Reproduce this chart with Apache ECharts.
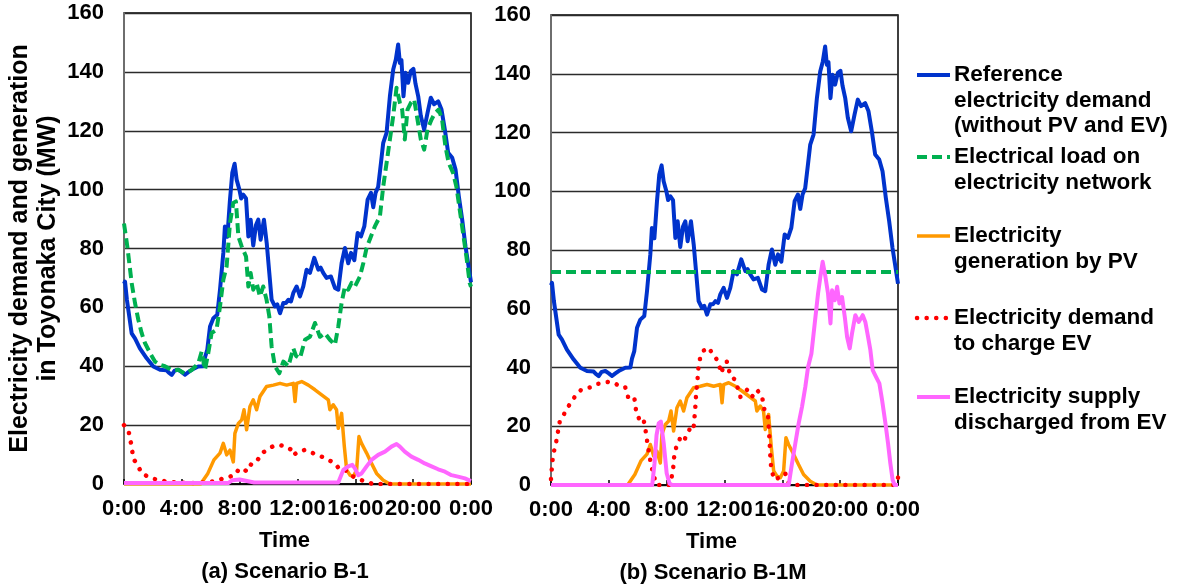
<!DOCTYPE html>
<html>
<head>
<meta charset="utf-8">
<script src="https://cdn.jsdelivr.net/npm/echarts@6/dist/echarts.min.js"></script>
<style>
html,body{margin:0;padding:0;background:#fff;}
#chart{width:1178px;height:588px;}
</style>
</head>
<body>
<div id="chart"></div>
<script>
// ---- DATA ([hour, MW]) ----
const xTicks = [0, 4, 8, 12, 16, 20, 24];
const seriesNames = [
  'Reference electricity demand (without PV and EV)',
  'Electrical load on electricity network',
  'Electricity generation by PV',
  'Electricity demand to charge EV',
  'Electricity supply discharged from EV'
];
const legendTexts = [
  'Reference\nelectricity demand\n(without PV and EV)',
  'Electrical load on\nelectricity network',
  'Electricity\ngeneration by PV',
  'Electricity demand\nto charge EV',
  'Electricity supply\ndischarged from EV'
];
const panelTitles = ['(a) Scenario B-1', '(b) Scenario B-1M'];

const refDemand = [[0,68],[0.07,68.8],[0.2,62.6],[0.53,51.2],[0.76,49.5],[1.1,46.1],[1.57,42.7],[2.03,39.9],[2.49,38.8],[2.95,38.6],[3.1,37.8],[3.3,37.1],[3.5,38.5],[3.76,38.8],[4.0,38.0],[4.22,37.1],[4.45,38.0],[4.68,38.8],[5.14,39.9],[5.49,40],[5.6,43],[5.76,45.6],[5.95,53.5],[6.18,56.3],[6.45,57.5],[6.64,66],[6.87,78.5],[6.98,87.5],[7.15,84],[7.33,96.6],[7.49,105.7],[7.65,108.8],[7.79,103.4],[7.98,100],[8.1,97],[8.25,98.3],[8.44,97],[8.6,84.1],[8.76,89.8],[8.94,81],[9.13,88],[9.29,89.8],[9.45,83],[9.68,89.8],[9.87,81.9],[10.05,71.7],[10.21,62.6],[10.44,60.3],[10.6,61],[10.79,58],[11.02,61.5],[11.2,61.5],[11.37,62.6],[11.55,62],[11.71,64.9],[11.94,67.1],[12.17,63.7],[12.4,67.1],[12.63,72.8],[12.86,71.7],[13.16,76.8],[13.44,72.8],[13.6,73.5],[13.78,71.7],[14.01,70],[14.31,70.5],[14.59,66.6],[14.82,66],[15.05,75],[15.28,80.2],[15.51,75],[15.7,78.5],[15.93,76],[16.16,85.3],[16.39,84.1],[16.62,87.5],[16.85,96.6],[17.08,98.9],[17.24,94],[17.4,98.9],[17.58,101],[17.77,109],[17.93,115.9],[18.16,119.3],[18.39,131.7],[18.62,140.8],[18.8,144.2],[18.96,149.3],[19.08,143],[19.19,144],[19.33,131.7],[19.47,139.7],[19.65,136.3],[19.84,140.3],[20.02,141],[20.16,136],[20.35,131.7],[20.53,125],[20.76,120.4],[20.99,126],[21.22,131.2],[21.45,129],[21.73,130],[21.96,127.2],[22.19,120.4],[22.42,112.5],[22.7,110.8],[22.93,106.8],[23.16,97.7],[23.39,89.8],[23.62,80.7],[23.8,75],[24,68.5]];

const netLoadA = [[0,88.5],[0.23,80.7],[0.53,68.3],[0.76,61.5],[0.99,55.8],[1.22,51.3],[1.45,47.9],[1.8,44.5],[2.14,41.6],[2.49,40.5],[2.83,40],[3.3,38.7],[3.76,38.8],[4.22,37.5],[4.68,38.7],[5.14,41],[5.37,45],[5.6,38.8],[5.83,44.5],[6.06,51.3],[6.4,52.4],[6.64,60.3],[6.87,69.4],[7.1,74],[7.33,88.7],[7.56,95.5],[7.74,96],[7.91,84.1],[8.14,80.7],[8.44,77.3],[8.6,67.1],[8.76,71.7],[8.94,66],[9.17,68.3],[9.4,63.7],[9.63,67.1],[9.86,62.6],[10.05,56.9],[10.21,46.7],[10.44,40],[10.74,37.6],[11.02,41.6],[11.37,40],[11.71,46.1],[11.9,43.5],[12.17,42.7],[12.52,49],[12.86,50],[13.21,54.7],[13.55,50],[13.9,51.2],[14.24,49],[14.59,47.3],[14.82,53.5],[15.05,61.5],[15.28,67.1],[15.51,66],[15.74,68.3],[15.97,67.1],[16.32,70.5],[16.55,75],[16.78,80.2],[17.08,84.1],[17.35,87.5],[17.7,90.9],[17.93,101.1],[18.16,109],[18.39,117],[18.62,125],[18.85,134.6],[19.08,129.5],[19.24,127.2],[19.42,117],[19.61,127.2],[19.84,129.5],[20.07,130.6],[20.3,123.8],[20.53,117],[20.76,113.6],[20.99,120.4],[21.27,123.8],[21.5,126],[21.77,127.2],[22,123.8],[22.23,114.7],[22.46,109],[22.76,105.7],[22.99,101],[23.22,93.2],[23.45,85.3],[23.68,77.3],[23.91,68.3],[24,67]];

const netLoadB = [[0,72.5],[24,72.5]];

const pvGen = [[0,0],[5.3,0],[5.8,3.6],[6.22,8.2],[6.64,10.5],[6.87,13.8],[7.1,9.9],[7.33,11.5],[7.56,7.5],[7.67,17.2],[7.91,20.6],[8.14,21.8],[8.3,25.2],[8.48,18.4],[8.71,26.3],[8.94,28.6],[9.17,25.2],[9.4,29.7],[9.86,33.1],[10.33,33.6],[10.79,34.2],[11.25,33.6],[11.71,34.2],[11.83,28],[11.94,34.2],[12.29,34.8],[12.75,33.6],[13.21,32],[13.67,30.3],[14.13,28.6],[14.24,25.2],[14.47,26.9],[14.7,25.2],[14.82,18.9],[15.05,24],[15.24,12.7],[15.4,4.8],[15.63,3],[15.86,2.5],[16.09,4.8],[16.25,16.1],[16.43,13.8],[16.78,10.5],[17.12,7],[17.47,3.6],[17.93,1.3],[18.39,0],[24,0]];

const evChargeA = [[0,20],[0.3,18.4],[0.53,12.7],[0.64,8.6],[0.94,6.5],[1.22,3.6],[1.91,1.9],[2.49,1.3],[3.07,0.7],[3.64,0.5],[4.5,0.3],[5.49,0.5],[6.3,1],[6.87,1.9],[7.33,2.5],[7.67,3],[7.91,4.8],[8.25,5.3],[8.48,4.2],[8.83,7],[9.17,7.6],[9.52,10.4],[9.86,11.5],[10.33,12.9],[10.79,13.2],[11.25,12.7],[11.6,11.5],[11.71,9.8],[12.06,11],[12.52,11.6],[13.1,10.4],[13.67,9.3],[14.13,8.2],[14.59,7],[14.94,4.8],[15.28,4.8],[15.86,2.5],[16.43,1.3],[16.78,0.8],[17.2,0],[24,0]];

const evChargeB = [[0,2],[0.09,7.9],[0.2,11.3],[0.36,14.7],[0.48,18.1],[0.6,21.5],[0.83,23.5],[1.18,26.6],[1.64,30],[2.1,32.5],[2.68,33.2],[3.14,34.4],[3.6,34.6],[3.95,35.1],[4.41,34.8],[4.75,33.4],[5.14,33.2],[5.33,30],[5.56,30],[5.75,30.2],[5.91,24.4],[6.14,22.1],[6.37,22.7],[6.49,20.4],[6.67,14.2],[6.79,10.8],[6.9,7.4],[7.06,4],[7.3,0],[8.2,0],[8.35,2.8],[8.46,6.2],[8.53,10.2],[8.7,13.6],[8.93,15.9],[9.16,14.7],[9.39,17],[9.62,19.3],[9.85,18.7],[9.92,22.7],[9.97,25.5],[10.04,31.2],[10.15,36.8],[10.2,40.2],[10.31,43.1],[10.54,45.7],[10.89,46.8],[11.24,44.2],[11.58,42],[11.76,38],[11.93,40.2],[12.16,42],[12.4,37.3],[12.75,35.7],[13.1,30],[13.56,32.4],[13.9,30],[14.25,32.4],[14.6,30],[14.83,23.8],[15.01,23.2],[15.1,16.4],[15.17,9.6],[15.24,5.1],[15.47,1.7],[15.86,2.8],[16.2,4],[16.44,0.6],[16.6,0],[23.8,0],[24,2.5]];

const evDischargeA = [[0,0.3],[7.2,0.3],[7.5,1.3],[8.0,1.5],[8.5,1.0],[9,0.5],[14.82,0.5],[15.17,4.8],[15.51,6],[15.79,6.5],[15.97,5.3],[16.2,3],[16.43,3.6],[16.78,6],[17.12,8.2],[17.58,9.9],[18.05,11],[18.5,12.7],[18.85,13.6],[19.08,12.7],[19.42,11],[19.88,9.3],[20.35,8.2],[20.8,7],[21.27,6],[21.73,5],[22.2,4.2],[22.65,3],[23.1,2.5],[23.58,1.9],[24,1]];

const evDischargeB = [[0,0],[7.0,0],[7.16,7.4],[7.3,17],[7.45,21],[7.6,21.6],[7.8,14],[8.0,4],[8.2,0.5],[8.37,0],[16.44,0],[16.67,7.4],[16.9,14.2],[17.13,21],[17.36,26.6],[17.59,33.4],[17.78,40.2],[18.01,44.7],[18.24,55],[18.47,65.2],[18.63,70.9],[18.79,76],[18.98,70.9],[19.16,65.2],[19.33,55],[19.44,66.3],[19.63,62.9],[19.79,67.5],[19.95,61.8],[20.13,64],[20.32,57.2],[20.48,50.4],[20.66,46.5],[20.82,51.6],[21.05,57.8],[21.28,55.5],[21.56,57.8],[21.74,55.5],[21.93,50.4],[22.09,45.9],[22.25,39.1],[22.48,36.8],[22.71,34.6],[22.9,28.9],[23.13,21],[23.31,14.2],[23.47,7.4],[23.63,1.7],[23.77,0],[24,0]];

// ---- STYLE ----
const FONT = '"Liberation Sans", Arial, Helvetica, sans-serif';
const styles = [
  {color:'#0033CC', width:4, type:'solid'},
  {color:'#00B050', width:4, type:[10,5]},
  {color:'#FF9900', width:3.5, type:'solid'},
  {color:'#FF0000', width:4.5, type:[0.1,9.5], cap:'round'},
  {color:'#FF66FF', width:4, type:'solid'}
];

const chart = echarts.init(document.getElementById('chart'), null, {renderer:'canvas'});

function xAx(gi){
  return {
    gridIndex: gi, type:'value', min:0, max:24, interval:4,
    axisLine:{show:true, onZero:false, lineStyle:{color:'#000', width:1.5}},
    axisTick:{show:true, inside:true, length:5, lineStyle:{color:'#000', width:1.5}},
    axisLabel:{color:'#000', fontFamily:FONT, fontWeight:'bold', fontSize:22, margin:14,
      formatter: v => (v % 24) + ':00'},
    splitLine:{show:false},
    name:'Time', nameLocation:'middle', nameGap:46,
    nameTextStyle:{color:'#000', fontFamily:FONT, fontWeight:'bold', fontSize:22, padding:[0,26,0,0]}
  };
}
function yAx(gi, withName){
  const a = {
    gridIndex: gi, type:'value', min:0, max:160, interval:20,
    axisLine:{show:true, lineStyle:{color:'#7f7f7f', width:1.5}},
    axisTick:{show:false},
    axisLabel:{color:'#000', fontFamily:FONT, fontWeight:'bold', fontSize:22, margin:20},
    splitLine:{show:true, lineStyle:{color:'#2b2b2b', width:1.3}}
  };
  if (withName){
    a.name = 'Electricity demand and generation\nin Toyonaka City (MW)';
    a.nameLocation = 'middle';
    a.nameGap = 62;
    a.nameTextStyle = {color:'#000', fontFamily:FONT, fontWeight:'bold', fontSize:25, lineHeight:28};
  }
  return a;
}
function mk(name, data, st, gi){
  return {
    name, type:'line', data, xAxisIndex:gi, yAxisIndex:gi,
    showSymbol:false, symbol:'none', smooth:false, animation:false,
    lineStyle:{color:st.color, width:st.width, type:st.type, cap:st.cap || 'butt', join:'round'},
    itemStyle:{color:st.color}
  };
}

const seriesA = [refDemand, netLoadA, pvGen, evChargeA, evDischargeA];
const seriesB = [refDemand, netLoadB, pvGen, evChargeB, evDischargeB];
const series = [];
seriesA.forEach((d,i)=>series.push(mk(seriesNames[i], d, styles[i], 0)));
seriesB.forEach((d,i)=>series.push(mk(seriesNames[i], d, styles[i], 1)));

// legend drawn as graphic (multi-line entries aligned on first line)
const legY = [75, 157, 236, 318, 397];
const graphic = [];
legY.forEach((y,i)=>{
  const st = styles[i];
  graphic.push({type:'line', shape:{x1:917, y1:y, x2:950, y2:y},
    style:{stroke:st.color, lineWidth:st.width, lineDash: Array.isArray(st.type)? st.type : null, lineCap: st.cap || 'butt'}});
  graphic.push({type:'text', x:954, y:y-12.75,
    style:{text:legendTexts[i], fill:'#000', font:'bold 22.5px ' + FONT, lineHeight:25.5, align:'left', verticalAlign:'top'}});
});
graphic.push({type:'text', x:285, y:572, style:{text:panelTitles[0], fill:'#000', font:'bold 22px ' + FONT, align:'center', verticalAlign:'middle'}});
graphic.push({type:'text', x:713, y:573, style:{text:panelTitles[1], fill:'#000', font:'bold 22px ' + FONT, align:'center', verticalAlign:'middle'}});

chart.setOption({
  animation:false,
  backgroundColor:'#fff',
  grid:[
    {left:124, top:13, width:347, height:471, show:true, borderColor:'#000', borderWidth:1.5, backgroundColor:'transparent'},
    {left:551, top:15, width:347, height:470, show:true, borderColor:'#000', borderWidth:1.5, backgroundColor:'transparent'}
  ],
  xAxis:[xAx(0), xAx(1)],
  yAxis:[yAx(0,true), yAx(1,false)],
  series,
  graphic
});
</script>
</body>
</html>
